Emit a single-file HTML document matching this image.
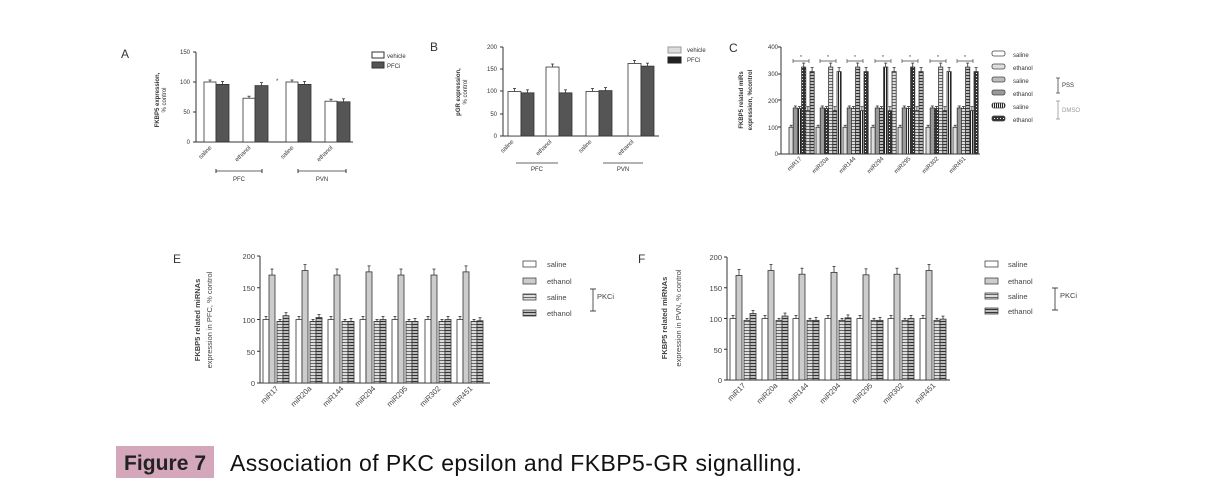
<!DOCTYPE html>
<html><head><meta charset="utf-8"><style>
html,body{margin:0;padding:0;background:#fff;}
svg{display:block;font-family:"Liberation Sans",sans-serif;}
.t{font-size:6px;fill:#333;}
.s{font-size:7.5px;fill:#444;}
</style></head><body>
<svg id="sv" width="1209" height="487" viewBox="0 0 1209 487" xmlns="http://www.w3.org/2000/svg">
<defs>
<pattern id="hl" width="4" height="3" patternUnits="userSpaceOnUse"><rect width="4" height="3" fill="#ddd"/><rect y="0" width="4" height="1" fill="#666"/></pattern>
<pattern id="hd" width="4" height="3" patternUnits="userSpaceOnUse"><rect width="4" height="3" fill="#bbb"/><rect y="0" width="4" height="1" fill="#333"/></pattern>
<pattern id="vl" width="2" height="4" patternUnits="userSpaceOnUse"><rect width="2" height="4" fill="#eee"/><rect width="1" height="4" fill="#222"/></pattern>
<pattern id="gr" width="3" height="3" patternUnits="userSpaceOnUse"><rect width="3" height="3" fill="#333"/><rect x="1" y="1" width="1" height="1" fill="#eee"/></pattern>
</defs>
<g id="g"></g>

<text x="121" y="58" font-size="12" fill="#333">A</text>
<text class="t" x="190" y="54" text-anchor="end">150</text>
<text class="t" x="190" y="84" text-anchor="end">100</text>
<text class="t" x="190" y="114" text-anchor="end">50</text>
<text class="t" x="190" y="144" text-anchor="end">0</text>
<text class="t" transform="translate(159,100) rotate(-90)" text-anchor="middle" font-weight="bold">FKBP5 expression,</text>
<text class="t" transform="translate(166,100) rotate(-90)" text-anchor="middle">% control</text>
<text class="t" transform="translate(212,148) rotate(-45)" text-anchor="end">saline</text>
<text class="t" transform="translate(251,148) rotate(-45)" text-anchor="end">ethanol</text>
<text class="t" transform="translate(294,148) rotate(-45)" text-anchor="end">saline</text>
<text class="t" transform="translate(333,148) rotate(-45)" text-anchor="end">ethanol</text>
<text class="t" x="239" y="181" text-anchor="middle">PFC</text>
<text class="t" x="322" y="181" text-anchor="middle">PVN</text>
<text class="t" x="387" y="58">vehicle</text>
<text class="t" x="387" y="68">PFCi</text>

<text x="430" y="51" font-size="12" fill="#333">B</text>
<text class="t" x="497" y="49" text-anchor="end">200</text>
<text class="t" x="497" y="71" text-anchor="end">150</text>
<text class="t" x="497" y="93" text-anchor="end">100</text>
<text class="t" x="497" y="116" text-anchor="end">50</text>
<text class="t" x="497" y="138" text-anchor="end">0</text>
<text class="t" transform="translate(460,92) rotate(-90)" text-anchor="middle" font-weight="bold">pGR expression,</text>
<text class="t" transform="translate(467,92) rotate(-90)" text-anchor="middle">% control</text>
<text class="t" transform="translate(514,142) rotate(-45)" text-anchor="end">saline</text>
<text class="t" transform="translate(552,142) rotate(-45)" text-anchor="end">ethanol</text>
<text class="t" transform="translate(592,142) rotate(-45)" text-anchor="end">saline</text>
<text class="t" transform="translate(634,142) rotate(-45)" text-anchor="end">ethanol</text>
<text class="t" x="537" y="171" text-anchor="middle">PFC</text>
<text class="t" x="623" y="171" text-anchor="middle">PVN</text>
<text class="t" x="687" y="52">vehicle</text>
<text class="t" x="687" y="62">PFCi</text>

<text x="729" y="52" font-size="12" fill="#333">C</text>
<text class="t" x="778" y="49" text-anchor="end">400</text>
<text class="t" x="778" y="76" text-anchor="end">300</text>
<text class="t" x="778" y="103" text-anchor="end">200</text>
<text class="t" x="778" y="130" text-anchor="end">100</text>
<text class="t" x="778" y="156" text-anchor="end">0</text>
<text class="t" transform="translate(743,100) rotate(-90)" text-anchor="middle" font-weight="bold">FKBP5 related miRs</text>
<text class="t" transform="translate(752,100) rotate(-90)" text-anchor="middle" font-weight="bold">expression, %control</text>
<g id="cl"></g>
<text class="t" x="1013" y="57">saline</text>
<text class="t" x="1013" y="70">ethanol</text>
<text class="t" x="1013" y="83">saline</text>
<text class="t" x="1013" y="96">ethanol</text>
<text class="t" x="1013" y="109">saline</text>
<text class="t" x="1013" y="122">ethanol</text>
<path d="M1056 78h4M1058 78v15M1056 93h4" stroke="#444" stroke-width="0.8" fill="none"/>
<text class="t" x="1062" y="87">PSS</text>
<path d="M1056 101h4M1058 101v18M1056 119h4" stroke="#aaa" stroke-width="1" fill="none"/>
<text class="t" x="1062" y="112" style="fill:#999">DMSO</text>

<text x="173" y="263" font-size="12" fill="#333">E</text>
<text class="s" x="255" y="259" text-anchor="end">200</text>
<text class="s" x="255" y="291" text-anchor="end">150</text>
<text class="s" x="255" y="323" text-anchor="end">100</text>
<text class="s" x="255" y="355" text-anchor="end">50</text>
<text class="s" x="255" y="386" text-anchor="end">0</text>
<text class="s" transform="translate(200,320) rotate(-90)" text-anchor="middle" font-weight="bold">FKBP5 related miRNAs</text>
<text class="s" transform="translate(212,320) rotate(-90)" text-anchor="middle">expression in PFC, % control</text>
<g id="el"></g>
<text class="s" x="547" y="267">saline</text>
<text class="s" x="547" y="284">ethanol</text>
<text class="s" x="547" y="300">saline</text>
<text class="s" x="547" y="316">ethanol</text>
<path d="M590 289h6M593 289v22M590 311h6" stroke="#444" stroke-width="0.9" fill="none"/>
<text class="s" x="597" y="299">PKCi</text>

<text x="638" y="263" font-size="12" fill="#333">F</text>
<text class="s" x="722" y="260" text-anchor="end">200</text>
<text class="s" x="722" y="291" text-anchor="end">150</text>
<text class="s" x="722" y="322" text-anchor="end">100</text>
<text class="s" x="722" y="353" text-anchor="end">50</text>
<text class="s" x="722" y="383" text-anchor="end">0</text>
<text class="s" transform="translate(667,318) rotate(-90)" text-anchor="middle" font-weight="bold">FKBP5 related miRNAs</text>
<text class="s" transform="translate(681,318) rotate(-90)" text-anchor="middle">expression in PVN, % control</text>
<g id="fl"></g>
<text class="s" x="1008" y="267">saline</text>
<text class="s" x="1008" y="284">ethanol</text>
<text class="s" x="1008" y="299">saline</text>
<text class="s" x="1008" y="314">ethanol</text>
<path d="M1052 288h6M1055 288v22M1052 310h6" stroke="#444" stroke-width="0.9" fill="none"/>
<text class="s" x="1060" y="298">PKCi</text>

<rect x="116" y="446" width="98" height="32" fill="#d4a7bb"/>
<text x="124" y="470" font-size="21" font-weight="bold" fill="#222" textLength="82">Figure 7</text>
<text x="230" y="471" font-size="23" fill="#111" textLength="572">Association of PKC epsilon and FKBP5-GR signalling.</text>
</svg>
<script>
var NS="http://www.w3.org/2000/svg",G=document.getElementById('g');
function el(t,a,p){var e=document.createElementNS(NS,t);for(var k in a)e.setAttribute(k,a[k]);(p||G).appendChild(e);return e;}
function line(x1,y1,x2,y2,c,w){el('line',{x1:x1,y1:y1,x2:x2,y2:y2,stroke:c||'#333','stroke-width':w||1});}
function bar(x,w,y0,h,fill,err){el('rect',{x:x,y:y0-h,width:w,height:h,fill:fill,stroke:'#333','stroke-width':0.8});
 if(err){line(x+w/2,y0-h,x+w/2,y0-h-err,'#333',0.8);line(x+w/2-1.5,y0-h-err,x+w/2+1.5,y0-h-err,'#333',0.8);}}
function axis(x,top,bot,end,ticks){line(x,top,x,bot);line(x,bot,end,bot);ticks.forEach(function(y){line(x-3,y,x,y);});}
var s=0.6;axis(196,52,142,353,[52,82,112,142]);
[[204,100,96],[243,73,94],[286,100,96],[325,68,67]].forEach(function(g){bar(g[0],12,142,g[1]*s,'#fff',2);bar(g[0]+12,13,142,g[2]*s,'#555',3);});
el('text',{x:276,y:83,'font-size':6,fill:'#333'}).textContent='*';
line(216,171,262,171,'#333',0.8);line(216,169,216,173);line(262,169,262,173);
line(298,171,346,171,'#333',0.8);line(298,169,298,173);line(346,169,346,173);
el('rect',{x:372,y:52,width:12,height:6,fill:'#fff',stroke:'#333'});el('rect',{x:372,y:62,width:12,height:6,fill:'#555',stroke:'#333'});
s=89/200;axis(503,47,136,659,[47,69,91,114,136]);
[[508,100,97],[546,155,97],[586,100,102],[628,163,157]].forEach(function(g){bar(g[0],13,136,g[1]*s,'#fff',3);bar(g[0]+13,13,136,g[2]*s,'#555',3);});
line(516,163,558,163,'#333',0.8);line(603,163,643,163,'#333',0.8);
el('rect',{x:668,y:47,width:13,height:6,fill:'#ddd',stroke:'#999'});el('rect',{x:668,y:57,width:13,height:6,fill:'#222',stroke:'#222'});
s=107/400;axis(781,47,154,980,[47,74,100,127,154]);
var CL=document.getElementById('cl');
var cf=['#ddd','#999','url(#hl)','url(#hd)','url(#vl)','url(#gr)'];
var nm=['miR17','miR20a','miR144','miR294','miR295','miR302','miR451'];
[789,816,843,871,898,926,953].forEach(function(g,i){
 var v=[100,172,170,325,162,308];
 v.forEach(function(val,j){bar(g+j*4.2,4.2,154,val*s,j<2?cf[j]:cf[2+((i+j)%4)],j>2?4:2);});
 line(g+4,61,g+20,61,'#333',0.7);line(g+4,59,g+4,63,'#333',0.6);line(g+20,59,g+20,63,'#333',0.6);
 el('text',{x:g+11,y:59,'font-size':5,fill:'#333'},CL).textContent='*';
 el('text',{class:'t',transform:'translate('+(g+13)+',159) rotate(-45)','text-anchor':'end'},CL).textContent=nm[i];
});
['#fff','#ddd','#bbb','#999','url(#vl)','url(#gr)'].forEach(function(f,j){el('rect',{x:992,y:51+j*13,width:13,height:5,rx:2,fill:f,stroke:'#444','stroke-width':0.8});});
function mir(ax,top,bot,end,starts,eth,pk,lg,lx,ly){
 var sc=(bot-top)/200;axis(ax,top,bot,end,[0,1,2,3,4].map(function(k){return top+k*(bot-top)/4;}));
 starts.forEach(function(g,i){bar(g,6,bot,100*sc,'#fff',3);bar(g+6,6,bot,eth[i]*sc,'#ccc',6);bar(g+14,6,bot,97*sc,'url(#hl)',2);bar(g+20,6,bot,pk[i]*sc,'url(#hd)',3);
  el('text',{class:'s',transform:'translate('+(g+16)+','+(bot+6)+') rotate(-45)','text-anchor':'end'},lg).textContent=nm[i];});
 ['#fff','#ccc','url(#hl)','url(#hd)'].forEach(function(f,j){el('rect',{x:lx,y:ly[j]-3,width:13,height:6,fill:f,stroke:'#444','stroke-width':0.8});});
}
mir(260,256,383,490,[263,296,328,360,392,425,457],[170,177,170,175,170,170,175],[106,103,97,100,97,100,98],document.getElementById('el'),523,[264,281,297,313]);
mir(727,257,380,950,[730,762,793,825,857,888,920],[170,178,172,175,171,172,178],[108,104,97,101,97,100,99],document.getElementById('fl'),985,[264,281,296,311]);
</script>
</body></html>
